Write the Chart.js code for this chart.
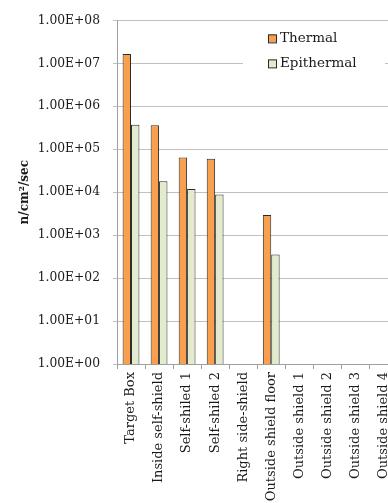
<!DOCTYPE html>
<html>
<head>
<meta charset="utf-8">
<script src="https://cdn.jsdelivr.net/npm/chart.js@4.4.0/dist/chart.umd.min.js"></script>
<style>
  html, body { margin: 0; padding: 0; background: #fff; overflow: hidden; }
  #chart { display: block; }
</style>
</head>
<body>
<canvas id="chart" width="402" height="503"></canvas>
<script>
  // --- data ---
  const categories = [
    'Target Box', 'Inside self-shield', 'Self-shiled 1', 'Self-shiled 2',
    'Right side-shield', 'Outside shield floor', 'Outside shield 1',
    'Outside shield 2', 'Outside shield 3', 'Outside shield 4'
  ];
  const thermal    = [1.66e7, 3.6e5, 6.4e4, 6.0e4, null, 2.94e3, null, null, null, null];
  const epithermal = [3.7e5, 1.8e4, 1.19e4, 8.85e3, null, 355, null, null, null, null];
  const yTicks = [1, 10, 100, 1e3, 1e4, 1e5, 1e6, 1e7, 1e8];
  const yTickLabels = ['1.00E+00', '1.00E+01', '1.00E+02', '1.00E+03', '1.00E+04',
                       '1.00E+05', '1.00E+06', '1.00E+07', '1.00E+08'];

  const FONT = "'DejaVu Serif', serif";
  const TEXT = '#1a1a1a';
  const GRID = '#c0c0c0';
  const AXIS = '#a0a0a0';

  // legend drawn inside the plot, with a white box hiding the grid line behind it
  const boxLegend = {
    id: 'boxLegend',
    afterDatasetsDraw(chart) {
      const ctx = chart.ctx;
      const area = chart.chartArea;
      const x0 = area.left + 126, y0 = area.top + 6;
      ctx.save();
      ctx.fillStyle = '#fff';
      ctx.fillRect(x0, y0, 142, 52);
      ctx.font = '13.5px ' + FONT;
      ctx.textBaseline = 'middle';
      chart.data.datasets.forEach((ds, i) => {
        const cy = y0 + 12 + i * 25;
        ctx.fillStyle = ds.backgroundColor;
        ctx.strokeStyle = ds.borderColor;
        ctx.lineWidth = 1;
        ctx.fillRect(x0 + 25, cy - 4, 8, 8);
        ctx.strokeRect(x0 + 25.5, cy - 3.5, 8, 8);
        ctx.fillStyle = TEXT;
        ctx.fillText(ds.label, x0 + 37, cy);
      });
      ctx.restore();
    }
  };

  new Chart(document.getElementById('chart'), {
    type: 'bar',
    data: {
      labels: categories,
      datasets: [
        { label: 'Thermal', data: thermal, backgroundColor: '#F9A04E', borderColor: '#2a2a2a', borderWidth: 1 },
        { label: 'Epithermal', data: epithermal, backgroundColor: '#E2EBCD', borderColor: '#2a2a2a', borderWidth: 1 }
      ]
    },
    options: {
      responsive: false,
      devicePixelRatio: 1,
      animation: false,
      layout: { padding: { top: 18, right: 0, left: 0, bottom: 0 } },
      datasets: { bar: { categoryPercentage: 0.6, barPercentage: 1.0 } },
      plugins: { legend: { display: false }, tooltip: { enabled: false } },
      scales: {
        x: {
          afterFit: (scale) => { scale.height = 139; },
          grid: { drawOnChartArea: false, color: AXIS, tickLength: 5, offset: true },
          border: { color: AXIS },
          ticks: {
            autoSkip: false, minRotation: 90, maxRotation: 90, padding: 3,
            color: TEXT, font: { family: FONT, size: 13 }
          }
        },
        y: {
          type: 'logarithmic',
          min: 1, max: 1e8,
          afterFit: (scale) => { scale.width = 117; },
          afterBuildTicks: (scale) => { scale.ticks = yTicks.map(v => ({ value: v })); },
          grid: { color: GRID, tickLength: 4 },
          border: { color: AXIS },
          ticks: {
            padding: 13, color: TEXT, font: { family: FONT, size: 12.3 },
            callback: (v) => yTickLabels[yTicks.indexOf(v)]
          },
          title: {
            display: true, text: 'n/cm\u00B2/sec', color: TEXT,
            font: { family: FONT, size: 12, weight: 'bold' },
            padding: { top: 18, bottom: 0 }
          }
        }
      }
    },
    plugins: [boxLegend]
  });
</script>
</body>
</html>
